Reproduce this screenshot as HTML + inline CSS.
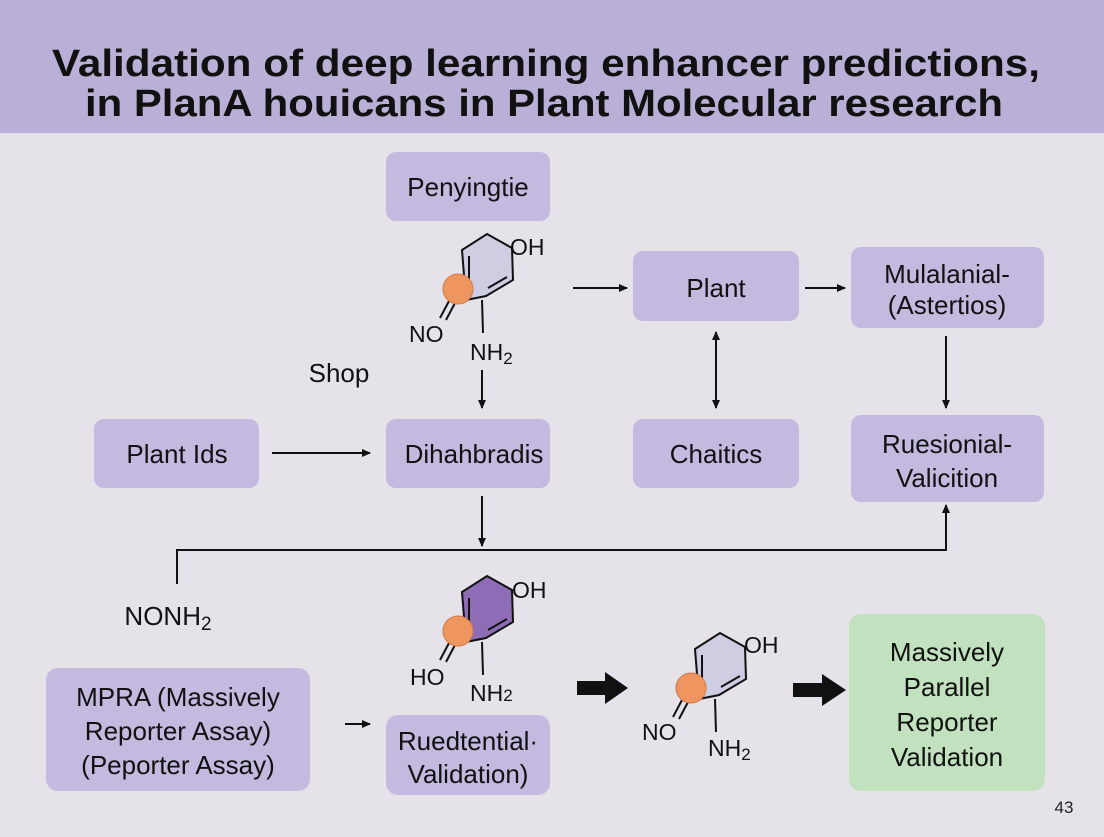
<!DOCTYPE html>
<html><head><meta charset="utf-8"><style>
body{margin:0;width:1104px;height:832px;overflow:hidden;background:#e5e2ea;font-family:"Liberation Sans",sans-serif}
</style></head><body>
<svg width="1104" height="832" xmlns="http://www.w3.org/2000/svg" font-family="Liberation Sans, sans-serif">
<defs>
<marker id="a" markerWidth="10" markerHeight="10" refX="8" refY="5" orient="auto" markerUnits="userSpaceOnUse"><path d="M0,1 L9,5 L0,9 z" fill="#111"/></marker>
<marker id="b" markerWidth="10" markerHeight="10" refX="1" refY="5" orient="auto" markerUnits="userSpaceOnUse"><path d="M9,1 L0,5 L9,9 z" fill="#111"/></marker>
</defs>
<rect x="0" y="0" width="1104" height="133" fill="#b9afd7"/>
<text x="52" y="76" font-size="38" font-weight="bold" fill="#111" textLength="988" lengthAdjust="spacingAndGlyphs">Validation of deep learning enhancer predictions,</text>
<text x="85" y="116" font-size="38" font-weight="bold" fill="#111" textLength="918" lengthAdjust="spacingAndGlyphs">in PlanA houicans in Plant Molecular research</text>
<g fill="#c4badf">
<rect x="386" y="152" width="164" height="69" rx="10"/>
<rect x="633" y="251" width="166" height="70" rx="10"/>
<rect x="851" y="247" width="193" height="81" rx="10"/>
<rect x="94" y="419" width="165" height="69" rx="10"/>
<rect x="386" y="419" width="164" height="69" rx="10"/>
<rect x="633" y="419" width="166" height="69" rx="10"/>
<rect x="851" y="415" width="193" height="87" rx="10"/>
<rect x="46" y="668" width="264" height="123" rx="12"/>
<rect x="386" y="715" width="164" height="80" rx="12"/>
</g>
<rect x="849" y="614" width="196" height="177" rx="12" fill="#c2e2bf"/>
<g font-size="26" fill="#111" text-anchor="middle">
<text x="468" y="196">Penyingtie</text>
<text x="716" y="297">Plant</text>
<text x="947" y="283">Mulalanial-</text>
<text x="947" y="314">(Astertios)</text>
<text x="177" y="463">Plant Ids</text>
<text x="474" y="463">Dihahbradis</text>
<text x="716" y="463">Chaitics</text>
<text x="947" y="453">Ruesionial-</text>
<text x="947" y="487">Valicition</text>
<text x="178" y="706">MPRA (Massively</text>
<text x="178" y="740">Reporter Assay)</text>
<text x="178" y="774">(Peporter Assay)</text>
<text x="468" y="750">Ruedtential·</text>
<text x="468" y="783">Validation)</text>
<text x="947" y="661">Massively</text>
<text x="947" y="696">Parallel</text>
<text x="947" y="731">Reporter</text>
<text x="947" y="766">Validation</text>
<text x="339" y="382">Shop</text>
<text x="168" y="625">NONH<tspan font-size="19" dy="5">2</tspan></text>
</g>
<text x="1064" y="813" font-size="17" text-anchor="middle" fill="#222">43</text>
<g stroke="#111" stroke-width="2" fill="none">
<path d="M487,234 L512,248 L513,280 L486,296 L466,300 L462,250 Z" fill="#cfcde2"/>
<path d="M469,256 L469,290 M507,277 L488,288"/>
<path d="M449,301 L440,318 M455,303 L446,320"/>
<path d="M482,300 L483,333"/>
<circle cx="458" cy="289" r="15" fill="#ee9560" stroke="#d07a4a" stroke-width="1"/>
</g>
<g font-size="23" fill="#111">
<text x="510" y="255">OH</text><text x="409" y="342">NO</text><text x="470" y="360">NH<tspan font-size="17" dy="4">2</tspan></text>
</g>
<g transform="translate(0,342)" stroke="#111" stroke-width="2" fill="none">
<path d="M487,234 L512,248 L513,280 L486,296 L466,300 L462,250 Z" fill="#8e6cb6"/>
<path d="M469,256 L469,290 M507,277 L488,288"/>
<path d="M449,301 L440,318 M455,303 L446,320"/>
<path d="M482,300 L483,333"/>
<circle cx="458" cy="289" r="15" fill="#ee9560" stroke="#d07a4a" stroke-width="1"/>
</g>
<g font-size="23" fill="#111">
<text x="512" y="598">OH</text><text x="410" y="685">HO</text><text x="470" y="701">NH<tspan font-size="17">2</tspan></text>
</g>
<g transform="translate(233,399)" stroke="#111" stroke-width="2" fill="none">
<path d="M487,234 L512,248 L513,280 L486,296 L466,300 L462,250 Z" fill="#cfcde2"/>
<path d="M469,256 L469,290 M507,277 L488,288"/>
<path d="M449,301 L440,318 M455,303 L446,320"/>
<path d="M482,300 L483,333"/>
<circle cx="458" cy="289" r="15" fill="#ee9560" stroke="#d07a4a" stroke-width="1"/>
</g>
<g font-size="23" fill="#111">
<text x="744" y="653">OH</text><text x="642" y="740">NO</text><text x="708" y="756">NH<tspan font-size="17" dy="4">2</tspan></text>
</g>
<g stroke="#111" stroke-width="2" fill="none">
<path d="M573,288 H627" marker-end="url(#a)"/>
<path d="M805,288 H845" marker-end="url(#a)"/>
<path d="M716,332 V408" marker-end="url(#a)" marker-start="url(#b)"/>
<path d="M946,336 V408" marker-end="url(#a)"/>
<path d="M272,453 H370" marker-end="url(#a)"/>
<path d="M482,370 V408" marker-end="url(#a)"/>
<path d="M482,496 V546" marker-end="url(#a)"/>
<path d="M177,584 V550 H946 V505" marker-end="url(#a)"/>
<path d="M345,724 H370" marker-end="url(#a)"/>
</g>
<path d="M577,681 H605 V672 L628,688 L605,704 V695 H577 Z" fill="#111"/>
<path d="M793,683 H822 V674 L846,690 L822,706 V697 H793 Z" fill="#111"/>
</svg>
</body></html>
